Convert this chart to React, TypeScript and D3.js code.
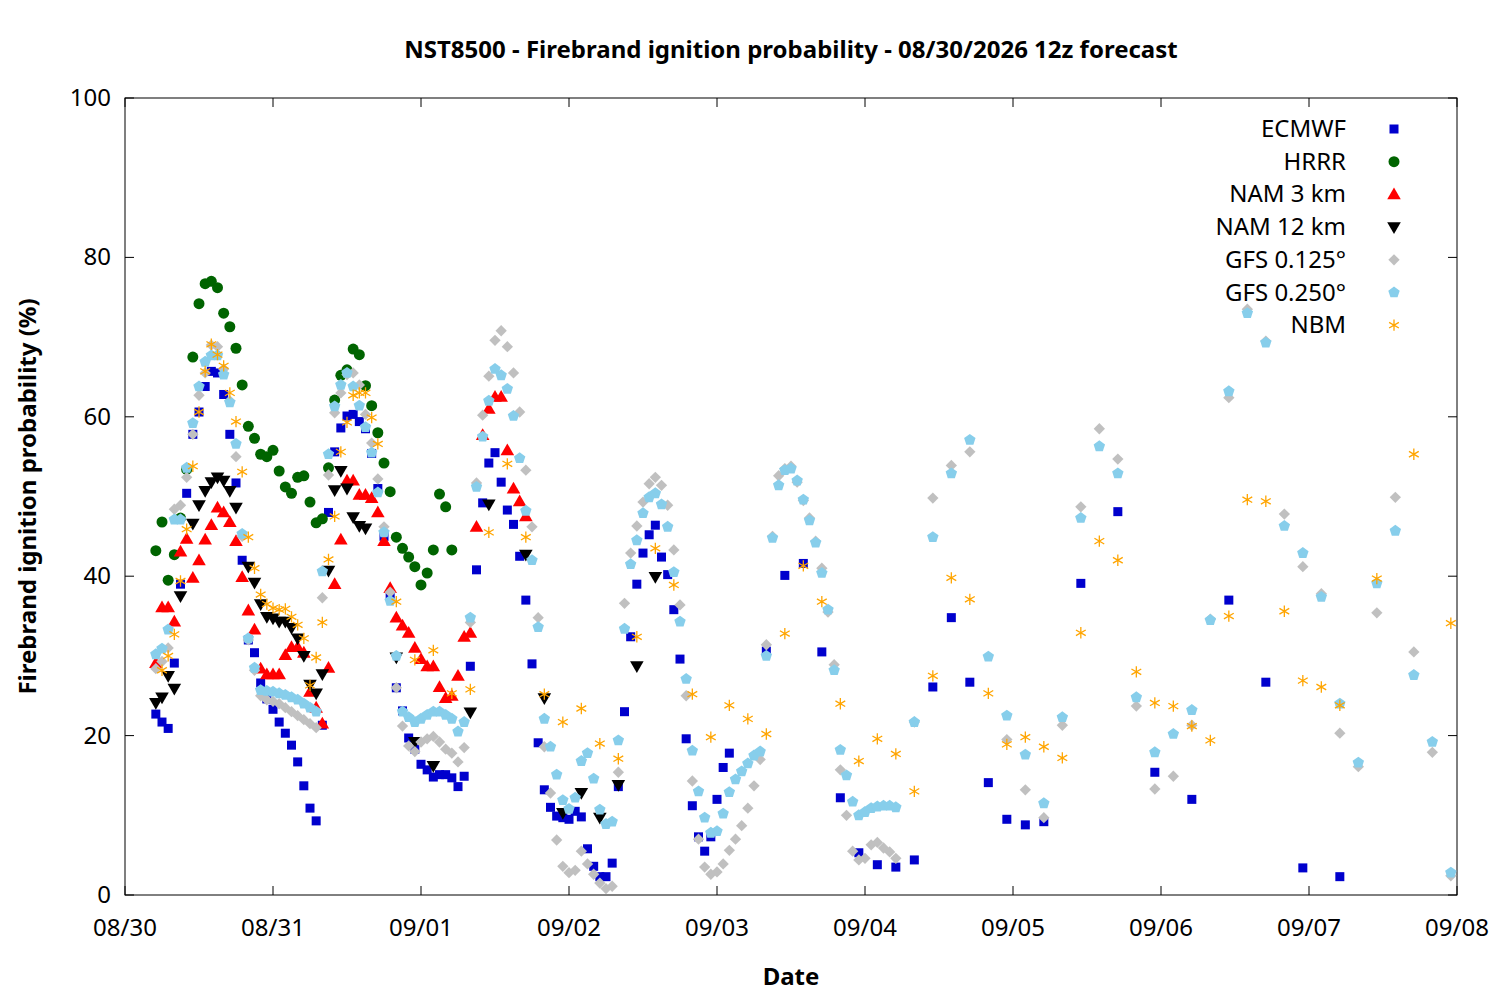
import { useRef, useEffect } from "react";
import * as d3 from "d3";

// ── Data (hours after 08/30 00z) ──────────────────────────────────────────────

const DATE_LABELS = ["08/30", "08/31", "09/01", "09/02", "09/03", "09/04", "09/05", "09/06", "09/07", "09/08"];
const Y_TICKS = [0, 20, 40, 60, 80, 100];

// hourly values start at hour 5
const ECMWF_HOURLY = [22.7,21.7,20.9,29.1,39,50.4,57.8,60.6,63.8,65.7,65.5,62.8,57.8,51.7,42,32,30.4,26.6,24.6,23.3,21.7,20.3,18.8,16.7,13.7,10.9,9.3,21.3,48,55.6,58.6,60.1,60.3,59.4,58.5,55.4,51,45,37.6,26,23.1,19.7,18.3,16.4,15.7,14.8,15.1,15.1,14.7,13.6,14.9,28.7,40.8,49.2,54.2,55.5,51.8,48.3,46.5,42.5,37,29,19.1,13.2,11,9.9,9.7,9.5,10.5,9.8,5.8,3.6,2.3,2.3,4,13.6,23,32.4,39,42.9,45.2,46.4,42.4,40.2,35.8,29.6,19.6,11.2,7.3,5.5,7.3,12,16,17.8];
const ECMWF_LATER: [number, number][] = [[104,30.6],[107,40.1],[110,41.6],[113,30.5],[116,12.2],[119,5.3],[122,3.8],[125,3.5],[128,4.4],[131,26.1],[134,34.8],[137,26.7],[140,14.1],[143,9.5],[146,8.8],[149,9.2],[155,39.1],[161,48.1],[167,15.4],[173,12],[179,37],[185,26.7],[191,3.4],[197,2.3]];

const HRRR_HOURLY = [43.2,46.8,39.5,42.7,47.3,53.4,67.5,74.2,76.7,77,76.2,73,71.3,68.6,64,58.8,57.3,55.3,55,55.8,53.2,51.2,50.4,52.4,52.6,49.3,46.7,47.2,53.6,62.1,65.2,65.9,68.5,67.8,63.9,61.4,58,54.2,50.6,44.9,43.5,42.4,41.2,38.9,40.4,43.3,50.3,48.7,43.3];

const NAM3_HOURLY = [29.1,36.1,36.1,34.3,43.1,44.7,39.8,42,44.6,46.4,48.6,48,46.8,44.4,39.9,35.7,33.3,28.4,27.7,27.7,27.7,30.1,31.1,31.1,30.4,25.5,23.5,21.5,28.5,39,44.6,52,52,50.2,50.2,49.8,48,44.4,38.5,34.8,33.8,32.9,31,29.6,28.7,28.7,26.1,24.7,25,27.5,32.4,32.9,46.2,57.7,61,62.5,62.5,55.8,51,49.4,47.5];

const NAM12_POINTS: [number, number][] = [[5,24.1],[6,24.8],[7,27.5],[8,25.9],[9,37.5],[11,46.6],[12,48.9],[13,50.7],[14,51.8],[15,52.4],[16,52],[17,50.7],[18,48.6],[20,41.2],[21,39.2],[22,36.5],[23,34.9],[24,34.7],[25,34.3],[26,34.3],[27,33.5],[28,32.2],[29,30],[30,26.4],[31,25.3],[32,27.7],[33,40.7],[34,50.8],[35,53.2],[36,51],[37,47.4],[38,46.3],[39,46],[44,29.8],[47,19.2],[50,16.2],[56,22.9],[59,49],[65,42.7],[68,24.7],[71,10.3],[74,12.8],[77,9.7],[80,13.8],[83,28.7],[86,39.9]];

const GFS125_HOURLY = [28.4,29.3,31,48.4,48.9,52.4,57.8,62.7,65.5,69,68.8,66,62,55,45,32,28.2,25,24.5,24.3,24,23.5,23,22.5,22,21.5,21,37.3,52.7,60.5,63,65.3,65.5,64,60.3,56.7,52.2,46.2,38,26,21.2,18.7,18,19.2,19.6,19.9,19.2,18.3,17.8,16.7,18.5,34.2,51.7,60.2,65.1,69.6,70.8,68.8,65.5,60.6,53.3,46.2,34.8,18.6,12.8,6.9,3.6,2.8,3.1,5.5,3.9,2.6,1.5,0.8,1.1,15.4,36.6,42.9,46.3,49.3,51.6,52.4,51.4,48.9,43.3,36.4,25,14.3,7,3.5,2.6,2.9,3.9,5.6,7,8.7,10.9,13.7,17,31.4,45,52.6,53.5,53.8,51.8,49.5,47.3,44.4,41,35.5,28.9,15.7,10,5.5,4.4,4.6,6.3,6.6,5.9,5.4,4.6];
const GFS125_LATER: [number, number][] = [[128,21.7],[131,49.8],[134,53.9],[137,55.6],[143,19.5],[146,13.2],[149,9.7],[152,21.3],[155,48.7],[158,58.5],[161,54.7],[164,23.7],[167,13.3],[170,14.9],[173,21.3],[176,34.6],[179,62.4],[182,73.5],[185,69.5],[188,47.8],[191,41.2],[194,37.8],[197,20.3],[200,16.1],[203,35.4],[206,49.9],[209,30.5],[212,17.9],[215,2.4]];

const GFS250_HOURLY = [30.2,30.9,33.3,47.1,47.1,53.6,59.2,63.8,66.9,67.7,67.7,65.3,61.8,56.6,45.3,32.2,28.5,25.7,25.6,25.5,25.3,25.1,24.8,24.5,24,23.5,23,40.6,55.3,61.3,64,65.5,63.8,61.4,58.7,55.5,50.5,45.5,36.9,30,23,22.3,21.7,22.1,22.6,23,23,22.6,22.1,20.5,21.7,34.8,51.2,57.5,62,66,65.2,63.5,60.1,54.8,48.2,42,33.6,22.1,18.6,15.1,11.9,10.8,12.2,16.8,17.8,14.6,10.7,8.9,9.2,19.4,33.4,41.5,44.5,47.9,49.9,50.4,49,46.2,40.5,34.3,27.1,18.1,13,9.7,7.8,8,10.2,12.9,14.5,15.5,16.5,17.5,18,30,44.8,51.4,53.3,53.5,52,49.6,47,44.2,40.4,35.8,28.2,18.2,15,11.7,10,10.4,10.9,11.1,11.2,11.2,11];
const GFS250_LATER: [number, number][] = [[128,21.7],[131,44.9],[134,52.9],[137,57.1],[140,29.9],[143,22.5],[146,17.6],[149,11.5],[152,22.3],[155,47.3],[158,56.3],[161,52.9],[164,24.8],[167,17.9],[170,20.2],[173,23.2],[176,34.5],[179,63.2],[182,73],[185,69.3],[188,46.3],[191,42.9],[194,37.4],[197,24],[200,16.6],[203,39.1],[206,45.7],[209,27.6],[212,19.2],[215,2.8]];

// hourly values start at hour 6
const NBM_HOURLY = [28.2,30,32.7,39.4,45.9,53.8,60.6,65.7,69.1,67.8,66.4,63,59.4,53.1,44.9,41,37.7,36.5,36,35.8,35.9,34.9,33.9,32.2,26.3,29.8,34.2,42.1,47.5,55.6,59.3,62.7,63,63,59.9,56.6];
const NBM_LATER: [number, number][] = [[44,36.8],[47,29.5],[50,30.7],[53,25.3],[56,25.8],[59,45.5],[62,54.1],[65,44.9],[68,25.2],[71,21.7],[74,23.4],[77,19],[80,17.1],[83,32.4],[86,43.5],[89,38.9],[92,25.2],[95,19.8],[98,23.8],[101,22.1],[104,20.2],[107,32.8],[110,41.3],[113,36.8],[116,24],[119,16.8],[122,19.6],[125,17.7],[128,13],[131,27.5],[134,39.8],[137,37.1],[140,25.3],[143,18.9],[146,19.8],[149,18.6],[152,17.2],[155,32.9],[158,44.4],[161,42],[164,28],[167,24.1],[170,23.7],[173,21.2],[176,19.4],[179,35],[182,49.6],[185,49.4],[188,35.6],[191,26.9],[194,26.1],[197,23.8],[203,39.7],[209,55.3],[215,34.1]];

const hourly = (vals: number[], start: number): [number, number][] => vals.map((v, i) => [start + i, v]);

type Marker = "square" | "circle" | "up" | "down" | "diamond" | "pentagon" | "asterisk";
interface Series { name: string; color: string; marker: Marker; points: [number, number][]; }

const SERIES: Series[] = [
  { name: "ECMWF", color: "#0000cd", marker: "square", points: [...hourly(ECMWF_HOURLY, 5), ...ECMWF_LATER] },
  { name: "HRRR", color: "#006400", marker: "circle", points: hourly(HRRR_HOURLY, 5) },
  { name: "NAM 3 km", color: "#ff0000", marker: "up", points: hourly(NAM3_HOURLY, 5) },
  { name: "NAM 12 km", color: "#000000", marker: "down", points: NAM12_POINTS },
  { name: "GFS 0.125°", color: "#c0c0c0", marker: "diamond", points: [...hourly(GFS125_HOURLY, 5), ...GFS125_LATER] },
  { name: "GFS 0.250°", color: "#87ceeb", marker: "pentagon", points: [...hourly(GFS250_HOURLY, 5), ...GFS250_LATER] },
  { name: "NBM", color: "#ffa500", marker: "asterisk", points: [...hourly(NBM_HOURLY, 6), ...NBM_LATER] },
];

// ── Layout ────────────────────────────────────────────────────────────────────

const W = 1500;
const H = 1000;
const PLOT = { left: 125, right: 1457, top: 98, bottom: 895 };
const FONT = "'Noto Sans', 'Open Sans', sans-serif";

function pentagonPath(r: number): string {
  const pts = d3.range(5).map((i) => {
    const a = -Math.PI / 2 + (i * 2 * Math.PI) / 5;
    return [r * Math.cos(a), r * Math.sin(a)];
  });
  return "M" + pts.map((p) => p.join(",")).join("L") + "Z";
}

function drawMarker(g: d3.Selection<SVGGElement, unknown, null, undefined>, m: Marker, color: string, x: number, y: number) {
  const t = `translate(${x},${y})`;
  switch (m) {
    case "square":
      g.append("rect").attr("x", x - 4.5).attr("y", y - 4.5).attr("width", 9).attr("height", 9).attr("fill", color);
      break;
    case "circle":
      g.append("circle").attr("cx", x).attr("cy", y).attr("r", 5.5).attr("fill", color);
      break;
    case "up":
      g.append("path").attr("d", d3.symbol(d3.symbolTriangle, 80)()).attr("transform", `${t} translate(0,1)`).attr("fill", color);
      break;
    case "down":
      g.append("path").attr("d", d3.symbol(d3.symbolTriangle, 80)()).attr("transform", `${t} rotate(180) translate(0,1)`).attr("fill", color);
      break;
    case "diamond":
      g.append("rect").attr("x", -4).attr("y", -4).attr("width", 8).attr("height", 8).attr("transform", `${t} rotate(45)`).attr("fill", color);
      break;
    case "pentagon":
      g.append("path").attr("d", pentagonPath(6)).attr("transform", t).attr("fill", color);
      break;
    case "asterisk":
      g.append("path").attr("d", d3.symbol(d3.symbolAsterisk, 90)()).attr("transform", t).attr("stroke", color).attr("stroke-width", 1.3).attr("fill", "none");
      break;
  }
}

function renderChart(svg: SVGSVGElement) {
  const root = d3.select(svg);
  root.selectAll("*").remove();

  const x = d3.scaleLinear().domain([0, 216]).range([PLOT.left, PLOT.right]);
  const y = d3.scaleLinear().domain([0, 100]).range([PLOT.bottom, PLOT.top]);

  const axes = root.append("g").attr("font-family", FONT).attr("font-size", 24).attr("fill", "#000");

  // Ticks (inward, mirrored)
  Y_TICKS.forEach((v) => {
    axes.append("line").attr("x1", PLOT.left).attr("x2", PLOT.left + 9).attr("y1", y(v)).attr("y2", y(v)).attr("stroke", "#000");
    axes.append("line").attr("x1", PLOT.right).attr("x2", PLOT.right - 9).attr("y1", y(v)).attr("y2", y(v)).attr("stroke", "#000");
    axes.append("text").attr("x", PLOT.left - 14).attr("y", y(v) + 8).attr("text-anchor", "end").text(v);
  });
  DATE_LABELS.forEach((lab, i) => {
    const xv = x(i * 24);
    axes.append("line").attr("x1", xv).attr("x2", xv).attr("y1", PLOT.bottom).attr("y2", PLOT.bottom - 9).attr("stroke", "#000");
    axes.append("line").attr("x1", xv).attr("x2", xv).attr("y1", PLOT.top).attr("y2", PLOT.top + 9).attr("stroke", "#000");
    axes.append("text").attr("x", xv).attr("y", PLOT.bottom + 41).attr("text-anchor", "middle").text(lab);
  });

  root.append("rect")
    .attr("x", PLOT.left).attr("y", PLOT.top)
    .attr("width", PLOT.right - PLOT.left).attr("height", PLOT.bottom - PLOT.top)
    .attr("fill", "none").attr("stroke", "#000");

  // Points
  const pts = root.append("g");
  SERIES.forEach((s) => {
    s.points.forEach(([h, v]) => drawMarker(pts, s.marker, s.color, x(h), y(v)));
  });

  // Legend
  const leg = root.append("g").attr("font-family", FONT).attr("font-size", 24);
  SERIES.forEach((s, i) => {
    const ly = 129 + i * 32.7;
    leg.append("text").attr("x", 1346).attr("y", ly + 8).attr("text-anchor", "end").text(s.name);
    drawMarker(leg, s.marker, s.color, 1394, ly);
  });

  // Titles
  root.append("text").attr("x", 791).attr("y", 58).attr("text-anchor", "middle")
    .attr("font-family", FONT).attr("font-size", 24).attr("font-weight", "bold")
    .text("NST8500 - Firebrand ignition probability - 08/30/2026 12z forecast");
  root.append("text").attr("x", 791).attr("y", 985).attr("text-anchor", "middle")
    .attr("font-family", FONT).attr("font-size", 24).attr("font-weight", "bold").text("Date");
  root.append("text").attr("transform", `translate(36,${(PLOT.top + PLOT.bottom) / 2}) rotate(-90)`)
    .attr("text-anchor", "middle").attr("font-family", FONT).attr("font-size", 24).attr("font-weight", "bold")
    .text("Firebrand ignition probability (%)");
}

export default function App() {
  const svgRef = useRef<SVGSVGElement>(null);
  useEffect(() => {
    if (svgRef.current) renderChart(svgRef.current);
  }, []);
  return (
    <svg
      ref={svgRef}
      width={W}
      height={H}
      style={{ position: "absolute", left: 0, top: 0, background: "#fff" }}
    />
  );
}
